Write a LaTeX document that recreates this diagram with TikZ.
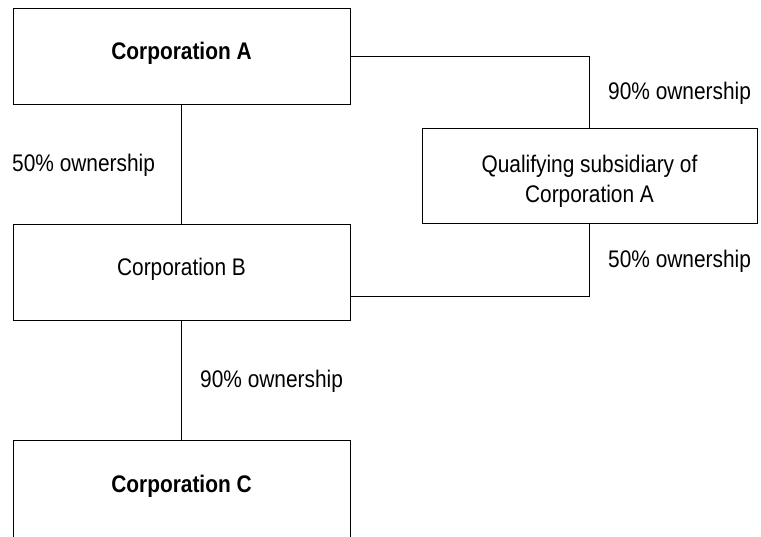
\documentclass[tikz,border=0pt]{standalone}
\usepackage{fontspec}
\setmainfont[FakeStretch=0.87]{Liberation Sans}
\begin{document}
\begin{tikzpicture}[x=1pt,y=-1pt,
  box/.style={draw=black,line width=1pt,minimum width=337pt,minimum height=96pt,inner sep=0pt},
  txt/.style={font=\fontsize{24}{30}\selectfont,inner sep=0pt,anchor=base},
  lbl/.style={font=\fontsize{24}{30}\selectfont,inner sep=0pt,anchor=base west},
  conn/.style={draw=black,line width=1pt}]
\useasboundingbox (0,0) rectangle (761,537);
\node[box] (A) at (181.5,57) {};
\node[box] (B) at (181.5,273) {};
\node[box] (C) at (181.5,489) {};
\node[box,minimum width=335pt,minimum height=95pt] (S) at (589.5,176.5) {};
\node[txt] (tA) at (181.5,60) {\bfseries Corporation A};
\node[txt] (tB) at (181.5,276) {Corporation B};
\node[txt] (tC) at (181.5,493) {\bfseries Corporation C};
\node[txt] (tS1) at (589.5,173) {Qualifying subsidiary of};
\node[txt] (tS2) at (589.5,203) {Corporation A};
\node[lbl] (l1) at (12,172) {50\% ownership};
\node[lbl] (l2) at (608,100) {90\% ownership};
\node[lbl] (l3) at (608,268) {50\% ownership};
\node[lbl] (l4) at (200,388) {90\% ownership};
\draw[conn] (A.south) -- (B.north);
\draw[conn] (B.south) -- (C.north);
\draw[conn] (A.east) -| (S.north);
\draw[conn] (S.south) |- (B.east |- 0,297);
\end{tikzpicture}
\end{document}
